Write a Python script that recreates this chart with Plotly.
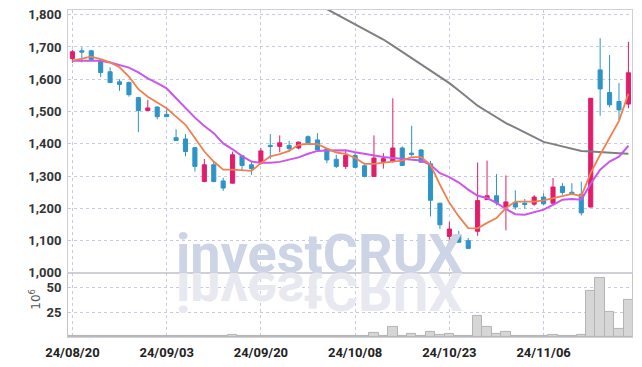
import plotly.graph_objects as go

dates = ["24/08/20","24/08/21","24/08/22","24/08/23","24/08/26","24/08/27","24/08/28","24/08/29","24/08/30","24/09/02",
         "24/09/03","24/09/04","24/09/05","24/09/06","24/09/09","24/09/10","24/09/11","24/09/12","24/09/13","24/09/19",
         "24/09/20","24/09/23","24/09/24","24/09/25","24/09/26","24/09/27","24/09/30","24/10/02","24/10/04","24/10/07",
         "24/10/08","24/10/10","24/10/11","24/10/14","24/10/15","24/10/16","24/10/17","24/10/18","24/10/21","24/10/22",
         "24/10/23","24/10/24","24/10/25","24/10/28","24/10/29","24/10/30","24/10/31","24/11/01","24/11/04","24/11/05",
         "24/11/06","24/11/07","24/11/08","24/11/11","24/11/12","24/11/13","24/11/14","24/11/15","24/11/18","24/11/19"]

open_ = [1664,1688,1688,1659,1623,1592,1590,1543,1503,1514,1491,1419,1415,1388,1283,1335,1285,1278,1363,1335,
         1340,1395,1392,1395,1387,1422,1412,1384,1352,1330,1364,1332,1299,1345,1345,1387,1371,1381,1338,1216,
         1113,1118,1100,1129,1227,1239,1204,1218,1216,1213,1235,1216,1268,1250,1244,1204,1629,1559,1531,1523]
close = [1685,1684,1661,1621,1590,1584,1552,1503,1511,1484,1484,1410,1376,1330,1335,1283,1263,1366,1333,1323,
         1378,1392,1403,1385,1405,1402,1381,1350,1330,1364,1327,1299,1356,1354,1387,1333,1367,1343,1225,1149,
         1136,1095,1076,1224,1239,1217,1220,1204,1212,1235,1214,1266,1249,1244,1186,1541,1570,1521,1505,1620]
high = [1691,1699,1691,1660,1637,1600,1593,1544,1536,1516,1507,1445,1430,1389,1353,1345,1295,1376,1366,1345,
        1387,1430,1426,1409,1407,1426,1433,1386,1366,1381,1375,1338,1426,1371,1541,1392,1456,1382,1347,1217,
        1158,1130,1108,1342,1348,1306,1302,1256,1229,1241,1247,1294,1278,1278,1283,1542,1727,1675,1588,1716]
low = [1651,1652,1659,1607,1588,1564,1546,1436,1502,1476,1483,1409,1361,1314,1281,1281,1254,1277,1319,1304,
       1335,1353,1374,1374,1383,1401,1380,1340,1325,1322,1326,1296,1297,1323,1342,1332,1361,1342,1175,1136,
       1078,1094,1075,1115,1226,1209,1132,1196,1199,1208,1209,1211,1242,1241,1178,1203,1487,1513,1474,1510]

ma_short = [1658,1665,1670,1662,1652,1637,1608,1569,1546,1528,1510,1484,1459,1418,1376,1345,1320,1320,1317,1316,
            1340,1361,1368,1378,1397,1400,1399,1387,1373,1369,1356,1338,1338,1342,1346,1348,1359,1359,1335,1273,
            1217,1175,1139,1138,1155,1170,1201,1221,1221,1221,1225,1232,1240,1245,1238,1310,1366,1419,1471,1555]
ma_mid = [1657,1657,1657,1657,1652,1644,1636,1621,1603,1588,1572,1541,1510,1481,1455,1433,1401,1383,1362,1345,
          1341,1341,1344,1350,1358,1369,1378,1379,1379,1380,1374,1369,1363,1359,1356,1353,1350,1348,1335,1309,
          1297,1280,1258,1239,1232,1217,1198,1182,1180,1187,1196,1211,1227,1229,1227,1276,1320,1345,1360,1394]
ma_long = [None]*26 + [1833,1817,1802,1786,1770,1755,1739,1723,1704,1685,1665,1646,1627,1608,1588,1565,1541,1518,
                       1500,1482,1464,1450,1435,1420,1406,1399,1392,1385,1378,1376,1375,1372,1371,1369]

volume = [1.5,0.6,0.6,0.8,0.6,0.6,0.6,0.7,0.6,1.0,0.8,0.6,0.6,0.6,0.6,0.8,0.7,2.3,0.6,0.6,
          1.5,1.5,0.6,1.2,0.6,0.6,1.5,0.6,0.6,0.6,0.7,0.8,4.3,1.0,10,1.0,3.3,1.5,5,2.3,
          3.3,1.0,1.0,21,10,3.3,5,1.0,0.8,0.8,1.0,2.3,1.0,0.8,2.3,46,59,25,8.3,37]

price_ticks = [1000,1100,1200,1300,1400,1500,1600,1700,1800]
vol_ticks = [25, 50]
date_ticks = dates[::10]

RED = "#e31c6b"
BLUE = "#2e94c8"
GRID = "#c8cbe0"
FONT = "Roboto, sans-serif"

fig = go.Figure()
fig.add_trace(go.Candlestick(
    x=dates, open=open_, high=high, low=low, close=close,
    increasing=dict(line=dict(color=RED, width=1), fillcolor=RED),
    decreasing=dict(line=dict(color=BLUE, width=1), fillcolor=BLUE),
    whiskerwidth=0, xaxis="x", yaxis="y", showlegend=False))
fig.add_trace(go.Scatter(x=dates, y=ma_long, mode="lines", line=dict(color="#7f7f7f", width=2),
                         xaxis="x", yaxis="y", showlegend=False))
fig.add_trace(go.Scatter(x=dates, y=ma_mid, mode="lines", line=dict(color="#cc55ea", width=2),
                         xaxis="x", yaxis="y", showlegend=False))
fig.add_trace(go.Scatter(x=dates, y=ma_short, mode="lines", line=dict(color="#ee8150", width=1.8),
                         xaxis="x", yaxis="y", showlegend=False))
fig.add_trace(go.Bar(x=dates, y=volume, marker=dict(color="#d6d6d6", line=dict(color="#b4b4b4", width=1)),
                     xaxis="x2", yaxis="y2", showlegend=False))

xcommon = dict(type="category", range=[-0.467, 59.38], tickvals=date_ticks, ticktext=date_ticks,
               showgrid=True, gridcolor=GRID, griddash="dot", gridwidth=1, automargin=False,
               showline=True, mirror=True, linecolor="#cfcfd8", linewidth=1, zeroline=False)

fig.update_layout(
    width=642, height=367,
    margin=dict(l=60.3, r=17.7, t=2, b=37.5),
    paper_bgcolor="white", plot_bgcolor="white",
    boxgap=0.38,
    bargap=0,
    xaxis=dict(**xcommon, domain=[0, 1], anchor="y", showticklabels=False,
               rangeslider=dict(visible=False)),
    xaxis2=dict(**xcommon, domain=[0, 1], anchor="y2", matches="x", showticklabels=True,
                ticks="outside", ticklen=3, tickcolor="rgba(0,0,0,0)",
                tickfont=dict(family=FONT, size=13, color="#222222", weight="bold")),
    yaxis=dict(domain=[0.196, 1], range=[1000, 1814.5], tickvals=price_ticks, tickformat=",d",
               showgrid=True, gridcolor=GRID, griddash="dot", zeroline=False, automargin=False,
               showline=True, mirror=True, linecolor="#cfcfd8", ticklabeloverflow="allow",
               ticks="outside", ticklen=3, tickcolor="rgba(0,0,0,0)",
               tickfont=dict(family=FONT, size=13, color="#333333", weight="bold")),
    yaxis2=dict(domain=[0, 0.196], range=[0, 64.2], tickvals=vol_ticks,
                showgrid=True, gridcolor=GRID, griddash="dot", zeroline=False, automargin=False,
                showline=True, mirror=True, linecolor="#c4c4c4", ticklabeloverflow="allow",
                ticks="outside", ticklen=3, tickcolor="rgba(0,0,0,0)",
                tickfont=dict(family=FONT, size=13, color="#333333", weight="bold")),
)

fig.add_annotation(text="investCRUX", xref="paper", yref="paper", x=0.4468, y=0.255,
                   xanchor="center", yanchor="middle", showarrow=False,
                   font=dict(family=FONT, size=54, color="#cdd4e6", weight="bold"))
fig.add_annotation(text="investCRUX", xref="paper", yref="paper", x=0.4468, y=0.14,
                   xanchor="center", yanchor="middle", showarrow=False,
                   font=dict(family=FONT, size=54, color="#e8e8f0", weight="bold"))
fig.add_annotation(text="10<sup>6</sup>", xref="paper", yref="paper", x=-0.0585, y=0.114,
                   xanchor="center", yanchor="middle", showarrow=False, textangle=-90,
                   font=dict(family="DejaVu Sans, sans-serif", size=12, color="#555555"))

post = """
var gd = document.getElementById('{plot_id}');
var el = gd.querySelector('.annotation[data-index="1"] text');
if (el) {
  var b = el.getBBox();
  var cy = b.y + b.height / 2;
  el.setAttribute('transform', 'translate(0,' + (2 * cy) + ') scale(1,-1)');
}
"""
fig.write_html("out.html", post_script=post)
